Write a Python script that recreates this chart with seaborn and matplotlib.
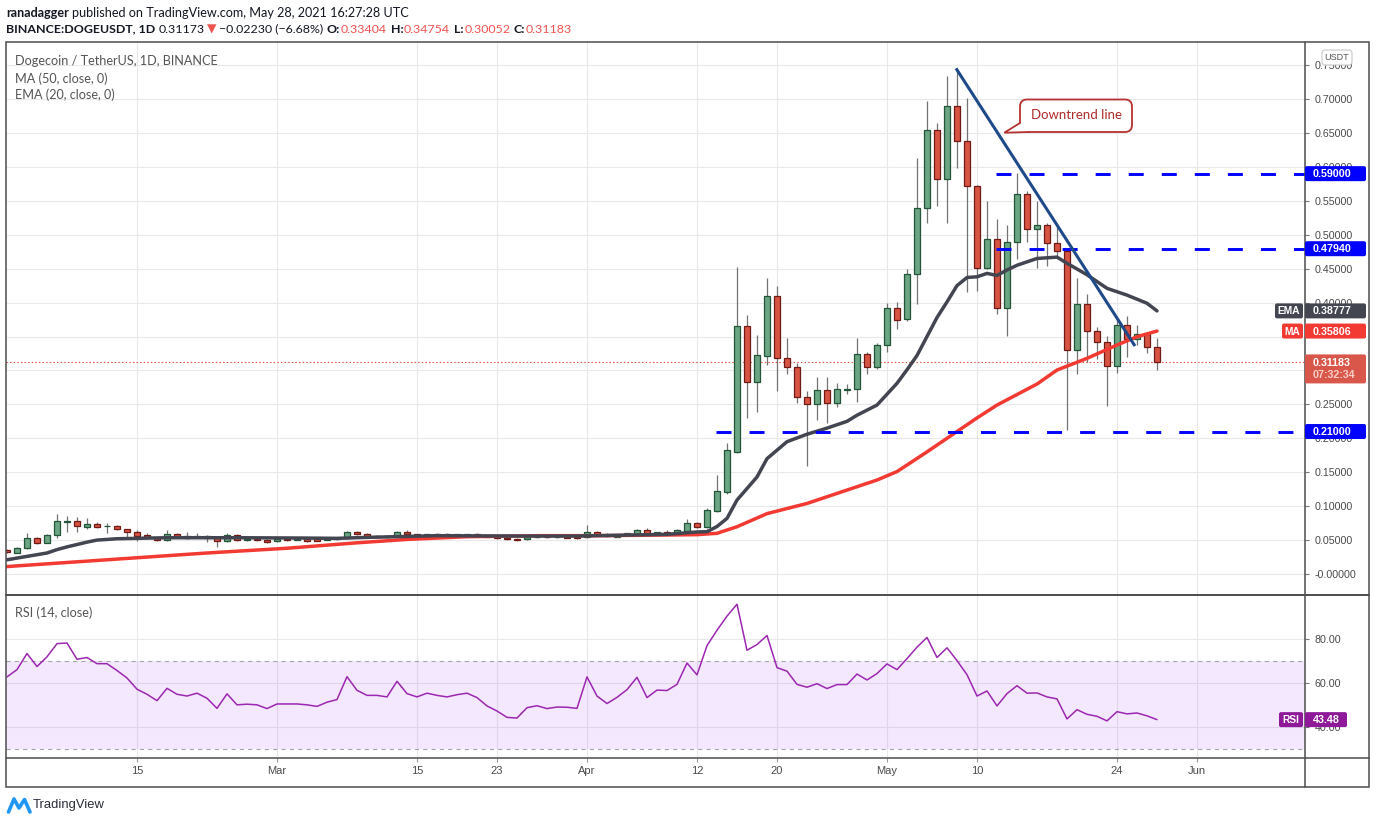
import numpy as np
import pandas as pd
import matplotlib
matplotlib.use("Agg")
import matplotlib.pyplot as plt
import seaborn as sns
from matplotlib.patches import Rectangle, FancyBboxPatch, Polygon

# ---------------- data ----------------
dates = pd.date_range("2021-02-02", "2021-05-28", freq="D")

opens = [0.0354, 0.0314, 0.0378, 0.0526, 0.0462, 0.0575, 0.0771, 0.0786, 0.0697, 0.0732,
         0.0703, 0.0707, 0.0658, 0.0624, 0.0575, 0.0535, 0.0496, 0.0585, 0.0555, 0.0540,
         0.0555, 0.0535, 0.0481, 0.0570, 0.0496, 0.0511, 0.0501, 0.0481, 0.0516, 0.0506,
         0.0511, 0.0511, 0.0501, 0.0511, 0.0526, 0.0624, 0.0585, 0.0550, 0.0560, 0.0550,
         0.0624, 0.0585, 0.0565, 0.0585, 0.0585, 0.0570, 0.0575, 0.0585, 0.0570, 0.0550,
         0.0535, 0.0516, 0.0511, 0.0540, 0.0550, 0.0540, 0.0545, 0.0545, 0.0540, 0.0624,
         0.0580, 0.0550, 0.0570, 0.0594, 0.0643, 0.0585, 0.0614, 0.0609, 0.0639, 0.0747,
         0.0697, 0.0933, 0.1213, 0.1800, 0.3655, 0.2825, 0.3217, 0.4097, 0.3178, 0.3055,
         0.2604, 0.2500, 0.2711, 0.2520, 0.2715, 0.2722, 0.3237, 0.3046, 0.3370, 0.3915,
         0.3753, 0.4417, 0.5389, 0.6538, 0.5816, 0.6892, 0.6376, 0.5713, 0.4505, 0.4932,
         0.3915, 0.4888, 0.5595, 0.5080, 0.5138, 0.4873, 0.4760, 0.3296, 0.3974, 0.3576,
         0.3414, 0.3060, 0.3665, 0.3458, 0.3532, 0.33404]
highs = [0.0370, 0.0403, 0.0609, 0.0550, 0.0585, 0.0884, 0.0855, 0.0835, 0.0820, 0.0761,
         0.0756, 0.0717, 0.0668, 0.0648, 0.0599, 0.0550, 0.0648, 0.0599, 0.0614, 0.0599,
         0.0575, 0.0550, 0.0599, 0.0585, 0.0540, 0.0526, 0.0516, 0.0526, 0.0526, 0.0530,
         0.0521, 0.0526, 0.0526, 0.0535, 0.0639, 0.0639, 0.0599, 0.0570, 0.0580, 0.0634,
         0.0648, 0.0594, 0.0594, 0.0599, 0.0604, 0.0594, 0.0594, 0.0599, 0.0580, 0.0560,
         0.0545, 0.0526, 0.0550, 0.0560, 0.0560, 0.0560, 0.0555, 0.0555, 0.0722, 0.0634,
         0.0599, 0.0585, 0.0609, 0.0658, 0.0683, 0.0624, 0.0648, 0.0658, 0.0810, 0.0761,
         0.0977, 0.1460, 0.1935, 0.4520, 0.3817, 0.3522, 0.4357, 0.4244, 0.3473, 0.3105,
         0.2697, 0.2908, 0.2908, 0.2819, 0.2800, 0.3473, 0.3276, 0.3409, 0.3989, 0.4013,
         0.4490, 0.6126, 0.6970, 0.6640, 0.7343, 0.7442, 0.7010, 0.5732, 0.5497, 0.5230,
         0.5140, 0.5914, 0.5644, 0.5497, 0.5168, 0.5153, 0.4800, 0.4367, 0.4126, 0.3640,
         0.3512, 0.3753, 0.3806, 0.3669, 0.3556, 0.34754]
lows = [0.0310, 0.0305, 0.0365, 0.0437, 0.0450, 0.0526, 0.0624, 0.0624, 0.0658, 0.0683,
        0.0609, 0.0648, 0.0550, 0.0486, 0.0530, 0.0486, 0.0486, 0.0540, 0.0511, 0.0526,
        0.0467, 0.0403, 0.0467, 0.0491, 0.0481, 0.0486, 0.0462, 0.0471, 0.0491, 0.0496,
        0.0476, 0.0481, 0.0496, 0.0501, 0.0511, 0.0570, 0.0535, 0.0535, 0.0535, 0.0540,
        0.0570, 0.0555, 0.0555, 0.0560, 0.0560, 0.0560, 0.0565, 0.0555, 0.0540, 0.0521,
        0.0501, 0.0491, 0.0501, 0.0530, 0.0530, 0.0530, 0.0526, 0.0511, 0.0530, 0.0560,
        0.0545, 0.0540, 0.0560, 0.0580, 0.0575, 0.0570, 0.0585, 0.0599, 0.0629, 0.0683,
        0.0680, 0.0910, 0.1180, 0.1788, 0.2304, 0.2392, 0.3080, 0.2702, 0.2947, 0.2524,
        0.1596, 0.2269, 0.2230, 0.2466, 0.2648, 0.2540, 0.2947, 0.3016, 0.3276, 0.3610,
        0.3733, 0.3974, 0.5168, 0.5418, 0.5168, 0.5988, 0.4160, 0.4170, 0.4500, 0.3827,
        0.3510, 0.4637, 0.4897, 0.4505, 0.4543, 0.4676, 0.2122, 0.2943, 0.3129, 0.3163,
        0.2480, 0.2957, 0.3202, 0.3374, 0.3261, 0.30052]
closes = [0.0320, 0.0378, 0.0526, 0.0462, 0.0575, 0.0781, 0.0786, 0.0707, 0.0737, 0.0697,
          0.0710, 0.0658, 0.0624, 0.0565, 0.0540, 0.0496, 0.0585, 0.0560, 0.0530, 0.0555,
          0.0530, 0.0481, 0.0570, 0.0501, 0.0511, 0.0496, 0.0476, 0.0511, 0.0506, 0.0516,
          0.0491, 0.0491, 0.0511, 0.0526, 0.0624, 0.0585, 0.0550, 0.0560, 0.0550, 0.0624,
          0.0585, 0.0565, 0.0585, 0.0570, 0.0570, 0.0585, 0.0585, 0.0565, 0.0550, 0.0535,
          0.0511, 0.0506, 0.0540, 0.0550, 0.0540, 0.0550, 0.0535, 0.0535, 0.0624, 0.0570,
          0.0555, 0.0575, 0.0599, 0.0643, 0.0585, 0.0614, 0.0599, 0.0648, 0.0747, 0.0697,
          0.0943, 0.1223, 0.1827, 0.3655, 0.2825, 0.3227, 0.4097, 0.3178, 0.3055, 0.2604,
          0.2500, 0.2711, 0.2518, 0.2720, 0.2722, 0.3237, 0.3045, 0.3370, 0.3915, 0.3738,
          0.4417, 0.5389, 0.6538, 0.5816, 0.6892, 0.6376, 0.5713, 0.4505, 0.4932, 0.3915,
          0.4888, 0.5595, 0.5080, 0.5139, 0.4873, 0.4760, 0.3296, 0.3974, 0.3576, 0.3414,
          0.3060, 0.3665, 0.3458, 0.3532, 0.3340, 0.31183]

# EMA(20) and MA(50) read at sample days (day index from Feb 2)
ema_idx = [0, 4, 5, 6, 8, 9, 11, 13, 16, 23, 30, 33, 36, 43, 50, 57, 66, 69, 70, 71, 72, 73,
           75, 76, 78, 80, 82, 84, 85, 87, 88, 89, 90, 91, 92, 93, 94, 95, 96, 97, 98, 99, 100,
           101, 103, 105, 106, 108, 110, 112, 114, 115]
ema_val = [0.021, 0.031, 0.036, 0.040, 0.047, 0.050, 0.052, 0.0526, 0.0535, 0.0535, 0.053,
           0.0526, 0.054, 0.0565, 0.056, 0.056, 0.0585, 0.062, 0.0624, 0.070, 0.082, 0.109,
           0.143, 0.170, 0.195, 0.206, 0.215, 0.225, 0.234, 0.249, 0.265, 0.281, 0.301, 0.322,
           0.350, 0.378, 0.401, 0.425, 0.437, 0.438, 0.443, 0.440, 0.448, 0.455, 0.465, 0.467,
           0.458, 0.441, 0.421, 0.411, 0.399, 0.38777]
ma_idx = [0, 10, 20, 28, 35, 40, 46, 53, 59, 66, 69, 71, 73, 76, 80, 83, 87, 89, 90, 92, 95,
          97, 99, 103, 105, 108, 111, 113, 115]
ma_val = [0.011, 0.021, 0.031, 0.038, 0.046, 0.051, 0.055, 0.0565, 0.0565, 0.0575, 0.058,
          0.060, 0.0697, 0.089, 0.104, 0.1188, 0.1385, 0.151, 0.1606, 0.180, 0.210, 0.230,
          0.249, 0.280, 0.3006, 0.3178, 0.3375, 0.3497, 0.35806]

rsi_vals = [62.9, 66.2, 73.5, 67.6, 72.0, 78.0, 78.3, 70.9, 71.7, 68.9,
            68.9, 65.8, 62.4, 57.3, 55.0, 52.1, 57.7, 55.0, 54.2, 55.5,
            53.2, 48.6, 55.2, 50.2, 50.5, 50.2, 48.5, 50.6, 50.6, 50.6,
            50.2, 49.5, 51.4, 52.6, 63.0, 56.8, 54.5, 54.5, 53.8, 60.9,
            55.3, 53.8, 55.5, 54.5, 53.8, 54.8, 55.5, 53.5, 49.7, 47.4,
            44.5, 44.2, 48.9, 49.8, 48.5, 49.2, 49.1, 48.6, 62.9, 54.2,
            50.8, 53.6, 57.1, 62.7, 53.5, 56.9, 56.7, 59.5, 69.2, 63.8,
            77.1, 84.1, 90.5, 95.9, 75.0, 77.6, 81.7, 67.1, 65.5, 59.5,
            58.2, 59.8, 57.6, 59.4, 59.4, 64.2, 61.5, 64.4, 68.8, 66.2,
            71.2, 76.4, 80.8, 71.7, 76.1, 70.3, 63.9, 54.2, 56.5, 49.7,
            55.3, 58.9, 55.5, 55.6, 53.8, 52.9, 43.8, 48.0, 45.9, 45.0,
            42.9, 47.1, 46.1, 46.5, 45.2, 43.48]

tick_dates = ["2021-02-15", "2021-03-01", "2021-03-15", "2021-03-23", "2021-04-01",
              "2021-04-12", "2021-04-20", "2021-05-01", "2021-05-10", "2021-05-24", "2021-06-01"]
tick_labels = ["15", "Mar", "15", "23", "Apr", "12", "20", "May", "10", "24", "Jun"]

levels = [0.59, 0.4794, 0.21]
level_labels = ["0.59000", "0.47940", "0.21000"]
level_start = [98.9, 98.9, 70.9]
trend_x = [94.9, 112.8]
trend_y = [0.7452, 0.336]
last_price = 0.31183
ema_last, ma_last, rsi_last = 0.38777, 0.35806, 43.48

# ---------------- figure ----------------
sns.set_theme(style="white")
plt.rcParams["font.family"] = ["Liberation Sans", "DejaVu Sans"]
plt.rcParams["lines.scale_dashes"] = False

W, H = 1376, 823
fig = plt.figure(figsize=(W / 100, H / 100), dpi=100)
fig.patch.set_facecolor("white")

L, R, FR = 6, 1305, 1369
PT, PB = 42, 595
RT, RB = 595, 758
BOT = 787

ax = fig.add_axes([L / W, 1 - PB / H, (R - L) / W, (PB - PT) / H])
axr = fig.add_axes([L / W, 1 - RB / H, (R - L) / W, (RB - RT) / H])

n = len(closes)
x = np.arange(n)
o = np.array(opens); c = np.array(closes); hi = np.array(highs); lo = np.array(lows)
up = c >= o
bb = np.minimum(o, c)
bh = np.maximum(np.abs(c - o), 0.0012)

xmin, xmax = -0.1, 129.8
tick_pos = [(pd.Timestamp(d) - dates[0]).days for d in tick_dates]

for a in (ax, axr):
    a.set_facecolor("white")
    a.set_axisbelow(True)
    for s in a.spines.values():
        s.set_visible(False)
    a.set_xlim(xmin, xmax)
    a.set_xticks(tick_pos)
    a.grid(True, color="#e9e9eb", lw=0.8)

# candles
ax.vlines(x, lo, hi, color="#737373", lw=0.9, zorder=3)
ax.bar(x[up], bh[up], bottom=bb[up], width=0.58, color="#6ba583", edgecolor="#225437",
       linewidth=0.9, zorder=4)
ax.bar(x[~up], bh[~up], bottom=bb[~up], width=0.58, color="#d75442", edgecolor="#6f1a14",
       linewidth=0.9, zorder=4)

sns.lineplot(x=ma_idx, y=ma_val, ax=ax, color="#f23a33", linewidth=2.5, zorder=5)
sns.lineplot(x=ema_idx, y=ema_val, ax=ax, color="#434651", linewidth=2.5, zorder=6)

# drawings
for v, s in zip(levels, level_start):
    ax.hlines(v, s, xmax, color="#0000ff", lw=2.1, linestyles=[(0, (10.8, 13.0))], zorder=7)
ax.plot(trend_x, trend_y, color="#1f4a8a", lw=2.2, solid_capstyle="butt", zorder=8)
ax.axhline(last_price, color="#e24a3b", lw=0.8, ls=(0, (1, 1.6)), zorder=2)

ax.set_ylim(-0.0309, 0.784)
price_ticks = np.arange(0, 0.751, 0.05)
# labels fully hidden behind the MA / last-price boxes in the reference are left blank
hidden = [0.30, 0.35]
plabels = []
for v in price_ticks:
    if any(abs(v - hv) < 1e-6 for hv in hidden):
        plabels.append("")
    elif abs(v) < 1e-9:
        plabels.append("-0.00000")
    else:
        plabels.append(f"{v:.5f}")
ax.set_yticks(price_ticks)
ax.set_yticklabels(plabels)
ax.yaxis.tick_right()
ax.tick_params(axis="y", right=True, left=False, labelright=True, labelleft=False,
               length=3, width=0.8, color="#777777", pad=4, labelsize=7.7, labelcolor="#4a4a4a")
ax.tick_params(axis="x", bottom=False, labelbottom=False)
ax.set_xlabel(""); ax.set_ylabel("")

# RSI pane
axr.axhspan(30, 70, color="#9b30ff", alpha=0.11, lw=0, zorder=1)
axr.axhline(70, color="#a5a5a5", lw=0.8, ls=(0, (3, 3)), zorder=2)
axr.axhline(30, color="#a5a5a5", lw=0.8, ls=(0, (3, 3)), zorder=2)
sns.lineplot(x=x, y=rsi_vals, ax=axr, color="#9c27b0", linewidth=1.1, zorder=3)
axr.set_ylim(26.05, 100.1)
axr.set_yticks([40, 60, 80])
axr.set_yticklabels(["40.00", "60.00", "80.00"])
axr.yaxis.tick_right()
axr.tick_params(axis="y", right=True, left=False, labelright=True, labelleft=False,
                length=3, width=0.8, color="#777777", pad=4, labelsize=7.7, labelcolor="#4a4a4a")
axr.set_xticklabels(tick_labels)
axr.tick_params(axis="x", bottom=True, length=3, width=0.8, color="#9a9a9a", pad=3,
                labelsize=8, labelcolor="#4a4a4a")
for t in axr.get_xticklabels():
    t.set_family(["Liberation Sans Narrow", "Liberation Sans", "DejaVu Sans"])
axr.set_xlabel(""); axr.set_ylabel("")

# ---------------- overlay (pixel coordinates) ----------------
ov = fig.add_axes([0, 0, 1, 1])
ov.set_xlim(0, W); ov.set_ylim(H, 0)
ov.axis("off"); ov.set_zorder(10); ov.patch.set_alpha(0)
renderer = fig.canvas.get_renderer()


def price_px(v):
    y0, y1 = ax.get_ylim()
    return PT + (y1 - v) / (y1 - y0) * (PB - PT)


def rsi_px(v):
    y0, y1 = axr.get_ylim()
    return RT + (y1 - v) / (y1 - y0) * (RB - RT)


# frame
fc = "#4d4d4d"
ov.add_patch(Rectangle((L, PT), FR - L, BOT - PT, fill=False, ec=fc, lw=1.1))
ov.plot([L, FR], [RT, RT], color=fc, lw=1.4)
ov.plot([L, FR], [RB, RB], color=fc, lw=1.1)
ov.plot([R, R], [PT, BOT], color=fc, lw=1.1)


def box(x0, x1, yc, h, color):
    ov.add_patch(FancyBboxPatch((x0, yc - h / 2), x1 - x0, h,
                                boxstyle="round,pad=0,rounding_size=2", fc=color, ec="none", zorder=5))


def vbox(yc, txt, color, tag=None, tag_x0=None, h=15, x1=1366):
    box(R, x1, yc, h, color)
    ov.text(1313, yc + 0.5, txt, color="white", fontsize=7.7, fontweight="bold", va="center",
            ha="left", zorder=6)
    if tag:
        box(tag_x0, R - 2, yc, h, color)
        ov.text((tag_x0 + R - 2) / 2, yc + 0.5, tag, color="white", fontsize=7.4, fontweight="bold",
                va="center", ha="center", zorder=6)


for v, lab in zip(levels, level_labels):
    vbox(price_px(v), lab, "#0000ff")
vbox(price_px(ema_last), f"{ema_last:.5f}", "#434651", "EMA", 1275)
vbox(price_px(ma_last), f"{ma_last:.5f}", "#f23a33", "MA", 1282)
yp = price_px(last_price)
ov.add_patch(FancyBboxPatch((R, yp - 8), 1366 - R, 29, boxstyle="round,pad=0,rounding_size=2",
                            fc="#d9574a", ec="none", zorder=5))
ov.text(1313, yp + 0.5, f"{last_price:.5f}", color="white", fontsize=7.7, fontweight="bold",
        va="center", ha="left", zorder=6)
ov.text(1313, yp + 13, "07:32:34", color="#f6cfc8", fontsize=7.7, fontweight="bold",
        va="center", ha="left", zorder=6)
vbox(rsi_px(rsi_last), f"{rsi_last:.2f}", "#8e1a99", "RSI", 1279, x1=1347)

# USDT badge
ov.add_patch(FancyBboxPatch((1322, 50), 30, 15, boxstyle="round,pad=0,rounding_size=3",
                            fc="white", ec="#c8c8c8", lw=0.8, zorder=5))
ov.text(1337, 57.5, "USDT", color="#555555", fontsize=6.5, va="center", ha="center", zorder=6)

# ---------------- texts ----------------
LATO = ["Lato", "DejaVu Sans"]


def chain(x0, y, pieces, fs, target_end=None):
    texts = []
    for s, col, wt, gap in pieces:
        t = ov.text(x0, y, s, color=col, fontweight=wt, fontsize=fs, va="center", ha="left",
                    family=LATO, zorder=6)
        texts.append((t, gap))

    def layout(size):
        cx = x0
        for t, gap in texts:
            t.set_fontsize(size)
            t.set_x(cx)
            cx += t.get_window_extent(renderer).width + gap * size * 100 / 72
        return cx

    end = layout(fs)
    if target_end is not None:
        lastgap = texts[-1][1] * fs * 100 / 72
        fs = fs * (target_end - x0) / (end - lastgap - x0)
        layout(fs)
    return fs


dark = "#131722"
red = "#ef5350"
chain(6, 12.5, [("ranadagger", dark, "bold", 0.27),
                ("published on TradingView.com, May 28, 2021 16:27:28 UTC", dark, "normal", 0)],
      9.5, target_end=412)
chain(6, 29, [("BINANCE:DOGEUSDT, 1D", dark, "bold", 0.3),
              ("0.31173", dark, "normal", 0.15),
              ("▼", red, "normal", 0.2),
              ("\u22120.02230 (\u22126.68%)", dark, "normal", 0.3),
              ("O:", dark, "bold", 0.05), ("0.33404", red, "normal", 0.3),
              ("H:", dark, "bold", 0.05), ("0.34754", red, "normal", 0.3),
              ("L:", dark, "bold", 0.05), ("0.30052", red, "normal", 0.3),
              ("C:", dark, "bold", 0.05), ("0.31183", red, "normal", 0)],
      9.5, target_end=577)

gray = "#555555"
lfs = chain(15, 61, [("Dogecoin / TetherUS, 1D, BINANCE", gray, "normal", 0)], 9.5, target_end=219)
chain(15, 79, [("MA (50, close, 0)", gray, "normal", 0)], lfs)
chain(15, 95, [("EMA (20, close, 0)", gray, "normal", 0)], lfs)
chain(15, 612.5, [("RSI (14, close)", gray, "normal", 0)], lfs)

# callout
ec = "#b5302f"
ov.add_patch(FancyBboxPatch((1020, 99.5), 112, 32.5, boxstyle="round,pad=0,rounding_size=7",
                            fc="white", ec=ec, lw=1.3, zorder=20))
A, T, B = (1020, 123), (1004.3, 132.7), (1029, 132)
ov.add_patch(Polygon([A, T, B], closed=True, fc="white", ec="none", zorder=21))
ov.plot([A[0], T[0], B[0]], [A[1], T[1], B[1]], color=ec, lw=1.3, zorder=22,
        solid_joinstyle="miter")
t = ov.text(1076.5, 115, "Downtrend line", color="#b02a2a", fontsize=10, va="center",
            ha="center", family=LATO, zorder=23)
w = t.get_window_extent(renderer).width
t.set_fontsize(10 * 91 / w)

# TradingView logo
ov.plot([8.5, 14, 19, 24.5, 30], [812, 799, 808, 799.5, 812], color="#2196f3", lw=2.6,
        solid_joinstyle="round", solid_capstyle="round")
t = ov.text(33, 805, "TradingView", color="#2a2e39", fontsize=9, va="center", ha="left",
            family=["Liberation Sans Narrow", "Liberation Sans", "DejaVu Sans"])
w = t.get_window_extent(renderer).width
t.set_fontsize(9 * 72 / w)

fig.savefig("out.png", dpi=100, facecolor="white")
